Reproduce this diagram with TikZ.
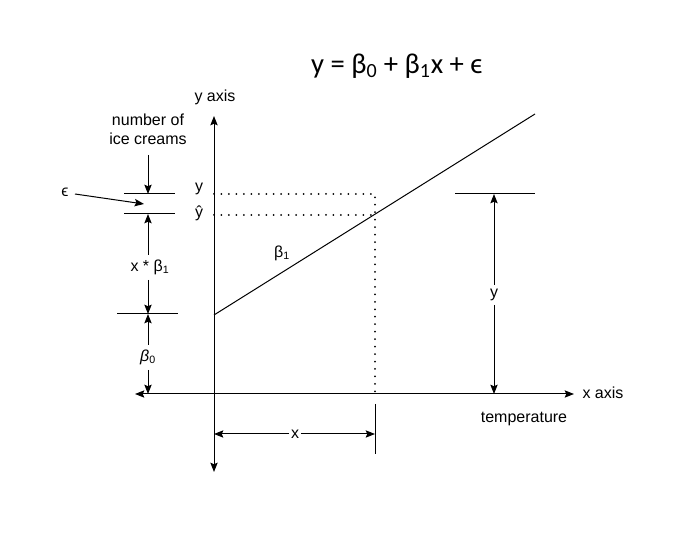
\documentclass[tikz,border=0pt]{standalone}
\usepackage{fontspec}
\setmainfont{Liberation Sans}
\newfontfamily\titlefont{Carlito}
\usetikzlibrary{arrows.meta}

\begin{document}
\begin{tikzpicture}[
		x=0.75pt, y=-0.75pt,
		line width=0.75pt,
		>={Stealth[length=7pt, width=5.5pt, inset=1.2pt]},
		txt/.style={font=\fontsize{12}{14}\selectfont, inner sep=1pt, align=center},
		guide/.style={line width=1.5pt, line cap=round, dash pattern=on 0pt off 5.6pt},
		tick/.style={line width=0.75pt},
	]
	\useasboundingbox (0,0) rectangle (683,534);
	% axes and regression line
	\coordinate (ytop) at (214,116);
	\coordinate (ybot) at (214,472);
	\coordinate (xleft) at (135,394);
	\coordinate (xright) at (574,394);
	\coordinate (b0) at (214,315);
	\coordinate (lineend) at (535,114);
	\draw[<->] (ybot) -- (ytop);
	\draw[<->] (xleft) -- (xright);
	\draw[tick] (b0) -- (lineend);
	\node[txt] (yaxis) at (215,97) {y axis};
	\node[txt] (xaxis) at (603,393) {x axis};
	\node[txt] (temp) at (524,419) {temperature};
	\node (title) at (397,66) {\titlefont\fontsize{21.5}{24}\selectfont y = β\textsubscript{0} + β\textsubscript{1}x + ϵ};
	% dotted guides
	\coordinate (ay) at (214,194);
	\coordinate (ayhat) at (214,215);
	\coordinate (py) at (375,194);
	\coordinate (pyhat) at (375,215);
	\coordinate (px) at (375,394);
	\draw[guide] (ay) -- (py) -- (px);
	\draw[guide] (ayhat) -- (pyhat);
	\node[txt] (ylab) at (199,189) {y};
	\node[txt] (yhatlab) at (199,213) {ŷ};
	\node[txt] (slope) at (282,253) {β\textsubscript{1}};
	% left decomposition
	\coordinate (t1) at (148,194);
	\coordinate (t2) at (148,214);
	\coordinate (t3) at (148,314);
	\coordinate (t4) at (148,394);
	\draw[tick] (124,194) -- (175,194);
	\draw[tick] (124,214) -- (175,214);
	\draw[tick] (117,314) -- (178,314);
	\node[txt] (count) at (148,129) {number of\\ice creams};
	\draw[->] (148,155) -- (t1);
	\node[txt] (eps) at (65,192) {ϵ};
	\coordinate (epsend) at (144,204);
	\draw[->] (75,194) -- (epsend);
	\node[txt] (xb1) at (150,267) {x * β\textsubscript{1}};
	\draw[->] (148,255) -- (t2);
	\draw[->] (148,280) -- (t3);
	\node[txt] (beta0) at (148,357) {\itshape β\upshape\textsubscript{0}};
	\draw[->] (148,345) -- (t3);
	\draw[->] (148,370) -- (t4);
	% x distance
	\coordinate (xl) at (214,434);
	\coordinate (xr) at (375,434);
	\draw[tick] (375,404) -- (375,454);
	\node[txt] (xlab) at (295,434) {x};
	\draw[->] (xlab.west) -- (xl);
	\draw[->] (xlab.east) -- (xr);
	% y distance
	\coordinate (yt) at (494,194);
	\coordinate (yb) at (494,394);
	\draw[tick] (455,194) -- (535,194);
	\node[txt] (ydist) at (494,295) {y};
	\draw[->] (494,285) -- (yt);
	\draw[->] (494,305) -- (yb);
\end{tikzpicture}
\end{document}
